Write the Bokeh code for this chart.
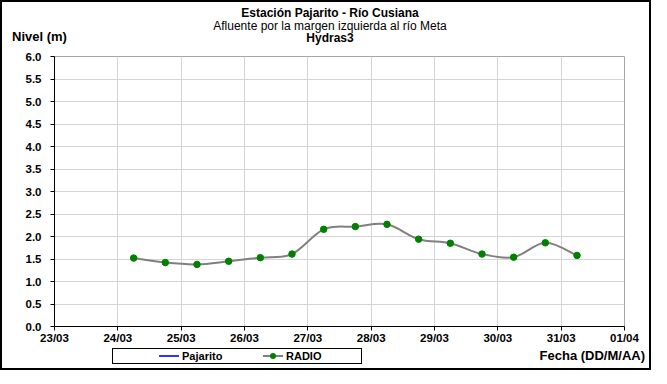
from bokeh.plotting import figure
from bokeh.layouts import column
from bokeh.models import Range1d, FixedTicker, CustomJSTickFormatter, Div
from bokeh.embed import file_html
from bokeh.resources import INLINE

# ---------------- data ----------------
# x = days after 23/03 (fractional), y = level in metres
radio_x = [1.25, 1.75, 2.25, 2.75, 3.25, 3.75, 4.25, 4.75, 5.25, 5.75, 6.25, 6.75, 7.25, 7.75, 8.25]
radio_y = [1.52, 1.42, 1.38, 1.45, 1.53, 1.61, 2.16, 2.22, 2.27, 1.94, 1.85, 1.61, 1.54, 1.86, 1.58]
pajarito_x = []
pajarito_y = []
x_ticks = [0, 1, 2, 3, 4, 5, 6, 7, 8, 9]
x_tick_labels = ["23/03", "24/03", "25/03", "26/03", "27/03", "28/03", "29/03", "30/03", "31/03", "01/04"]
y_ticks = [0.0, 0.5, 1.0, 1.5, 2.0, 2.5, 3.0, 3.5, 4.0, 4.5, 5.0, 5.5, 6.0]
title = "Estación Pajarito - Río Cusiana"
subtitle = "Afluente por la margen izquierda al río Meta"
subtitle2 = "Hydras3"
y_title = "Nivel (m)"
x_title = "Fecha (DD/M/AA)"
series_names = ["Pajarito", "RADIO"]

FONT = "'Liberation Sans', Arial, sans-serif"
W = 647
H_HEAD, H_MAIN, H_FOOT = 46, 296, 22

# ---------------- header (titles) ----------------
head_html = f"""
<div style="position:relative;width:{W}px;height:{H_HEAD}px;font-family:{FONT};color:#000;">
  <div style="position:absolute;left:0;width:656px;top:5px;text-align:center;font-weight:bold;font-size:12px;line-height:12px;white-space:nowrap;">{title}</div>
  <div style="position:absolute;left:0;width:656px;top:17.5px;text-align:center;font-size:12px;line-height:12px;white-space:nowrap;">{subtitle}</div>
  <div style="position:absolute;left:0;width:656px;top:30px;text-align:center;font-weight:bold;font-size:12px;line-height:12px;white-space:nowrap;">{subtitle2}</div>
  <div style="position:absolute;left:10px;top:28px;font-weight:bold;font-size:13px;line-height:13px;white-space:nowrap;">{y_title}</div>
</div>"""
head = Div(text=head_html, width=W, height=H_HEAD, margin=0)

# ---------------- main plot ----------------
p = figure(frame_width=570, frame_height=270,
           min_border_left=52, min_border_right=25, min_border_top=8, min_border_bottom=18,
           x_range=Range1d(0, 9), y_range=Range1d(0, 6),
           output_backend="svg", toolbar_location=None,
           background_fill_color="white", border_fill_color="white", margin=0)
p.outline_line_color = "#a6a6a6"
p.outline_line_width = 1

p.xgrid.ticker = FixedTicker(ticks=x_ticks)
p.ygrid.ticker = FixedTicker(ticks=y_ticks)
for g in (p.xgrid[0], p.ygrid[0]):
    g.grid_line_color = "#d4d4d4"
    g.grid_line_width = 1

p.xaxis.ticker = FixedTicker(ticks=x_ticks)
p.xaxis.major_label_overrides = {t: l for t, l in zip(x_ticks, x_tick_labels)}
p.yaxis.ticker = FixedTicker(ticks=y_ticks)
p.yaxis.formatter = CustomJSTickFormatter(code="return tick.toFixed(1);")
for ax in (p.xaxis[0], p.yaxis[0]):
    ax.axis_line_color = "black"
    ax.axis_line_width = 1
    ax.major_tick_line_color = "black"
    ax.major_tick_out = 4
    ax.major_tick_in = 0
    ax.minor_tick_line_color = None
    ax.major_label_text_font = "Liberation Sans"
    ax.major_label_text_font_style = "bold"
    ax.major_label_text_font_size = "11.5px"
    ax.major_label_text_color = "black"
p.xaxis.major_label_standoff = 1
p.yaxis.major_label_standoff = 9

# smoothed line (Catmull-Rom style Bezier segments through the data)
n = len(radio_x)
x0, y0, x1, y1, cx0, cy0, cx1, cy1 = [], [], [], [], [], [], [], []
for i in range(n - 1):
    pa = (radio_x[max(i - 1, 0)], radio_y[max(i - 1, 0)])
    pb = (radio_x[i], radio_y[i])
    pc = (radio_x[i + 1], radio_y[i + 1])
    pd = (radio_x[min(i + 2, n - 1)], radio_y[min(i + 2, n - 1)])
    x0.append(pb[0]); y0.append(pb[1]); x1.append(pc[0]); y1.append(pc[1])
    cx0.append(pb[0] + (pc[0] - pa[0]) / 6.0); cy0.append(pb[1] + (pc[1] - pa[1]) / 6.0)
    cx1.append(pc[0] - (pd[0] - pb[0]) / 6.0); cy1.append(pc[1] - (pd[1] - pb[1]) / 6.0)
p.bezier(x0=x0, y0=y0, x1=x1, y1=y1, cx0=cx0, cy0=cy0, cx1=cx1, cy1=cy1,
         line_color="#808080", line_width=2)
p.line(x=pajarito_x, y=pajarito_y, line_color="#3333ff", line_width=2)
p.scatter(x=radio_x, y=radio_y, size=6.5, fill_color="#008000", line_color="#008000")

# ---------------- footer (legend + axis title) ----------------
foot_html = f"""
<div style="position:relative;width:{W}px;height:{H_FOOT}px;font-family:{FONT};color:#000;">
  <div style="position:absolute;left:110px;top:2px;width:250px;height:16px;box-sizing:border-box;border:1px solid #000;"></div>
  <div style="position:absolute;left:157px;top:9px;width:20px;height:2px;background:#3333ff;"></div>
  <div style="position:absolute;left:180px;top:3px;font-weight:bold;font-size:11px;line-height:14px;white-space:nowrap;">{series_names[0]}</div>
  <div style="position:absolute;left:261px;top:9px;width:20px;height:2px;background:#808080;"></div>
  <div style="position:absolute;left:268px;top:7px;width:6px;height:6px;border-radius:50%;background:#008000;"></div>
  <div style="position:absolute;left:284px;top:3px;font-weight:bold;font-size:11px;line-height:14px;white-space:nowrap;">{series_names[1]}</div>
  <div style="position:absolute;right:4px;top:3px;font-weight:bold;font-size:13px;line-height:13px;white-space:nowrap;">{x_title}</div>
</div>"""
foot = Div(text=foot_html, width=W, height=H_FOOT, margin=0)

layout = column(head, p, foot, spacing=0, styles={"border": "2px solid black"})

open("out.html", "w").write(file_html(layout, INLINE))
